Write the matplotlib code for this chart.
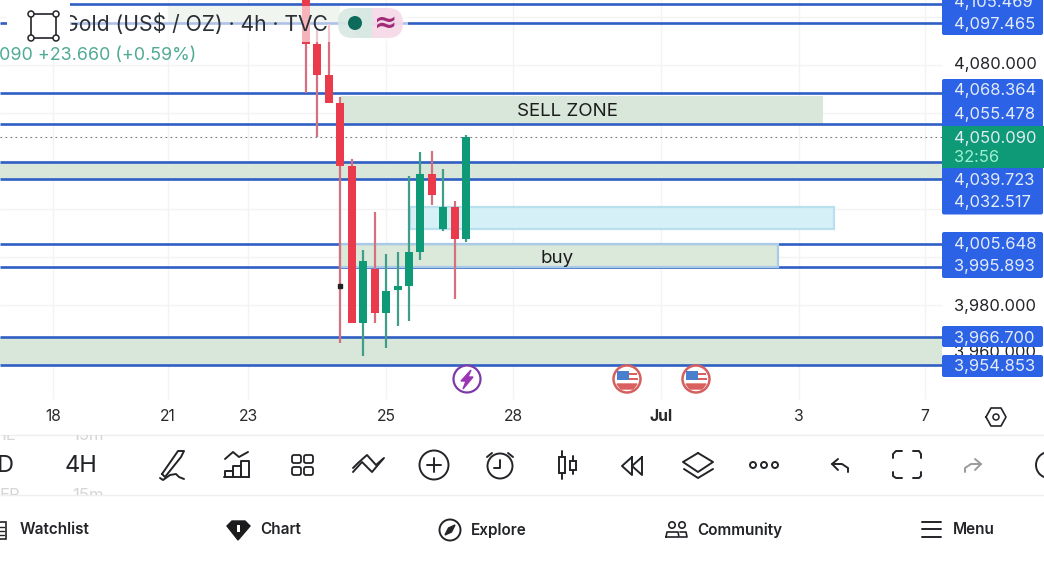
import matplotlib
matplotlib.use("Agg")
import matplotlib.pyplot as plt
import matplotlib.patches as mpatches

plt.rcParams["font.family"] = ["Inter", "DejaVu Sans"]

# Candles (4h bars, price in US$/oz)
opens  = [4110.0, 4088.6, 4075.9, 4064.3, 4038.1, 3972.4, 3995.2, 3976.6,
          3986.4, 3988.1, 4002.2, 4034.6, 4011.6, 4020.7, 4007.7]
highs  = [4112.0, 4094.6, 4097.1, 4066.8, 4040.9, 4002.9, 4018.6, 4001.3,
          4002.1, 4033.8, 4043.9, 4044.2, 4036.6, 4023.2, 4050.7]
lows   = [4068.4, 4050.1, 4064.2, 3964.3, 3972.7, 3958.9, 3972.4, 3962.2,
          3971.3, 3973.5, 3998.8, 4021.8, 4011.0, 3982.5, 4006.4]
closes = [4088.8, 4075.7, 4064.3, 4038.0, 3972.7, 3998.5, 3976.6, 3986.0,
          3987.8, 4002.2, 4034.6, 4025.9, 4020.7, 4007.7, 4050.09]

levels = [4105.469, 4097.465, 4068.364, 4055.478, 4039.723, 4032.517,
          4005.648, 3995.893, 3966.700, 3954.853]
last_price = 4050.09
grid_prices = [4100, 4080, 4060, 4040, 4020, 4000, 3980, 3960]

date_ticks  = [-22.1, -12.06, -5.07, 6.99, 18.09, 31.03, 43.1, 54.1]
date_labels = ["18", "21", "23", "25", "28", "Jul", "3", "7"]

price_labels = ["4,105.469", "4,097.465", "4,068.364", "4,055.478", "4,050.090",
                "32:56", "4,039.723", "4,032.517", "4,005.648", "3,995.893",
                "3,966.700", "3,954.853"]
price_label_y = [2, 24, 91, 114, 138, 157, 180, 203, 244, 267, 338, 366]

BLUE  = "#2c62e6"
LINE  = "#2f5fc4"
ZONE  = "#d8e7d9"
GREEN = "#0f9a77"
RED   = "#ea3b4c"
INK   = "#222428"
W, H = 1044, 588

fig = plt.figure(figsize=(W / 100, H / 100), dpi=100, facecolor="white")

# price axes: 2.4 px per dollar, 11.44 px per bar
ax = fig.add_axes([0, 0, 1, 1])
ax.set_xlim(-26.75, 64.51)
ax.set_ylim(3862.11, 4107.11)
ax.axis("off")
RIGHT = 55.6

# overlay in pixel coordinates for the app chrome
ui = fig.add_axes([0, 0, 1, 1], zorder=5)
ui.set_xlim(0, W)
ui.set_ylim(H, 0)
ui.axis("off")
ui.patch.set_alpha(0)

# grid
ax.hlines(grid_prices, -26.75, RIGHT, color="#f3f3f3", lw=1, zorder=1)
ax.vlines(date_ticks, 3941, 4107.11, color="#f3f3f3", lw=1, zorder=1)

# zones
def zone(x0, x1, lo, hi, face=ZONE, edge="none", z=2):
    ax.add_patch(mpatches.Rectangle((x0, lo), x1 - x0, hi - lo, facecolor=face,
                                    edgecolor=edge, lw=1.6, zorder=z))

zone(-12.06, 3.0, 4097.465, 4104.5)
zone(3.0, 45.2, 4055.478, 4067.0)
zone(-26.75, RIGHT, 4032.517, 4039.723)
zone(-26.75, RIGHT, 3954.853, 3966.7)
zone(9.1, 46.15, 4011.7, 4020.9, face="#d5f0f6", edge="#b8e0ee")

# levels
ax.hlines(levels, -26.75, RIGHT, color=LINE, lw=1.9, zorder=3)
ax.hlines(last_price, -26.75, RIGHT, color="#777777", lw=0.8,
          linestyles=(0, (1.5, 3)), zorder=3)
zone(3.0, 41.26, 3995.893, 4005.648, face=(0.85, 0.91, 0.85, 0.93), edge="#a9cbe8", z=4)

# candles
idx = list(range(len(opens)))
for i in idx:
    up = closes[i] >= opens[i]
    ax.vlines(i, lows[i], highs[i], color="#3f9d8a" if up else "#d4707f", lw=1.6, zorder=5)
    ax.bar(i, abs(closes[i] - opens[i]), bottom=min(opens[i], closes[i]), width=0.7,
           color=GREEN if up else RED, zorder=6)
ax.plot([3], [3988.0], "s", ms=2.2, color="#222222", zorder=7)

ax.text(22.85, 4060.8, "SELL ZONE", ha="center", va="center", fontsize=13.5, color="#1c1c1c", zorder=7)
ax.text(21.95, 3999.4, "buy", ha="center", va="center", fontsize=13.5, color="#1c1c1c", zorder=7)

# date axis
for t, s in zip(date_ticks, date_labels):
    ax.text(t, 3933.4, s, ha="center", va="center", fontsize=11.3,
            color="#2a2a2a", fontweight="bold" if s == "Jul" else "normal", zorder=7)

# price axis
def pbox(y0, y1, color=BLUE):
    ui.add_patch(mpatches.FancyBboxPatch((944, y0 + 2), 97, y1 - y0 - 4,
                 boxstyle="round,pad=2", facecolor=color, edgecolor="none", zorder=3))

for s, y in [("4,080.000", 65), ("3,980.000", 306), ("3,960.000", 352)]:
    ui.text(954, y, s, ha="left", va="center", fontsize=11.9, color=INK, zorder=2)
pbox(-8, 35)
pbox(79, 128)
pbox(166, 214.5)
ui.add_patch(mpatches.Rectangle((942, 126), 102, 42, facecolor=GREEN, edgecolor="none", zorder=4))
pbox(232, 278)
pbox(326, 347)
pbox(355, 377)
for s, y in zip(price_labels, price_label_y):
    ui.text(954, y, s, ha="left", va="center", fontsize=11.9,
            color="#9ff0d2" if s == "32:56" else "#e4ecf8", zorder=6)

# header veil, tool box, title
ui.add_patch(mpatches.Rectangle((70, 6), 338, 36, facecolor="white", alpha=0.62,
                                edgecolor="none", zorder=1))
ui.text(63, 24, "Gold (US$ / OZ) · 4h · TVC", ha="left", va="center", fontsize=15.2,
        color="#2b2f36", zorder=2)
ui.add_patch(mpatches.Rectangle((7, 0), 63, 50, facecolor="white", edgecolor="none", zorder=3))
ui.add_patch(mpatches.Rectangle((0, 0), 8, 15, facecolor="white", edgecolor="none", zorder=3))
ui.add_patch(mpatches.Rectangle((31, 14), 25, 24, fill=False, edgecolor=INK, lw=1.2, zorder=4))
for cx, cy in [(31, 14), (56, 14), (31, 38), (56, 38)]:
    ui.add_patch(mpatches.Circle((cx, cy), 3, facecolor="white", edgecolor=INK, lw=1.1, zorder=5))
ui.text(196, 55, "090 +23.660 (+0.59%)", ha="right", va="center", fontsize=12.9,
        color="#4fab94", zorder=4)

ui.add_patch(mpatches.FancyBboxPatch((352, 8), 51, 30, boxstyle="round,pad=0,rounding_size=15",
                                     facecolor="#f6d9e6", edgecolor="none", alpha=0.9, zorder=2))
ui.add_patch(mpatches.FancyBboxPatch((338, 8), 34, 30, boxstyle="round,pad=0,rounding_size=14",
                                     facecolor="#d8e8e3", edgecolor="none", alpha=0.9, zorder=2))
ui.add_patch(mpatches.Rectangle((360, 8), 12, 30, facecolor="#d8e8e3", edgecolor="none", zorder=2))
ui.add_patch(mpatches.Circle((355, 23), 7, facecolor="#0e6b5b", edgecolor="none", zorder=3))
ui.text(386, 23, "≈", ha="center", va="center", fontsize=20, fontweight="bold",
        color="#a32c78", family=["DejaVu Sans"], zorder=3)

# event badges
ui.add_patch(mpatches.Circle((467, 379), 13.5, facecolor="white", edgecolor="#7d3aa8", lw=1.6, zorder=3))
ui.fill([471, 461, 466, 463, 473, 468], [370, 381, 381, 389, 377, 377], color="#9b35b5", zorder=4)
for cx in [627, 696]:
    ui.add_patch(mpatches.Circle((cx, 379), 13.5, facecolor="white", edgecolor="#d4605f", lw=1.8, zorder=3))
    ui.add_patch(mpatches.Rectangle((cx - 10, 371), 12, 9, facecolor="#4a7fcf", edgecolor="none", zorder=4))
    ui.add_patch(mpatches.Rectangle((cx + 2, 373), 8, 2.4, facecolor="#d9605f", edgecolor="none", zorder=4))
    ui.add_patch(mpatches.Rectangle((cx + 2, 378), 9, 2.4, facecolor="#d9605f", edgecolor="none", zorder=4))
    ui.fill([cx - 10, cx + 10, cx + 6, cx - 6], [384, 384, 389, 389], color="#d9605f", zorder=4)

# settings hexagon
ui.plot([986, 991, 1001, 1006, 1001, 991, 986], [417, 408, 408, 417, 426, 426, 417], color=INK, lw=1.2)
ui.add_patch(mpatches.Circle((996, 417), 3, fill=False, edgecolor=INK, lw=1.1))

# lower panel
ui.add_patch(mpatches.Rectangle((0, 435), W, 153, facecolor="white", edgecolor="none", zorder=1))
ui.hlines([435, 495], 0, W, color="#efefef", lw=1, zorder=2)
clip = mpatches.Rectangle((0, 435), W, 60, transform=ui.transData)
for x, y, s in [(8, 436, "1E"), (88, 436, "15m"), (10, 496, "EP"), (88, 496, "15m")]:
    t = ui.text(x, y, s, ha="center", va="center", fontsize=12, color="#d6d6d6", zorder=2)
    t.set_clip_path(clip)
    t.set_clip_on(True)
ui.text(5, 466, "D", ha="center", va="center", fontsize=17, color=INK, zorder=3)
ui.text(81, 466, "4H", ha="center", va="center", fontsize=17, color=INK, zorder=3)

def stroke(xs, ys, color=INK, lw=1.4):
    ui.plot(xs, ys, color=color, lw=lw, solid_capstyle="round", solid_joinstyle="round", zorder=4)

# pen
stroke([162, 178, 184, 181, 165, 162], [474, 451, 451, 457, 477, 474])
stroke([160, 163, 170, 176, 179, 184], [478, 480, 475, 474, 477, 479])
# indicators
stroke([225, 233, 239, 248], [459, 452, 457, 452])
for x, y in [(225, 471), (233, 466), (241, 461)]:
    stroke([x, x, x + 8, x + 8], [477, y, y, 477])
stroke([224, 249], [477, 477])
# grid of four
for x in [291, 303]:
    for y in [454, 466]:
        ui.add_patch(mpatches.FancyBboxPatch((x + 1, y + 1), 9, 8, boxstyle="round,pad=0,rounding_size=2",
                     fill=False, edgecolor=INK, lw=1.3, zorder=4))
# zigzag ribbon
stroke([353, 362, 372, 383], [472, 462, 472, 459])
stroke([353, 358, 367, 376, 384], [468, 463, 455, 465, 458])
# plus
ui.add_patch(mpatches.Circle((434, 465), 14.5, fill=False, edgecolor=INK, lw=1.4, zorder=4))
stroke([434, 434], [458, 472])
stroke([427, 441], [465, 465])
# alarm
ui.add_patch(mpatches.Circle((500, 466), 12.5, fill=False, edgecolor=INK, lw=1.4, zorder=4))
stroke([500, 500, 494], [460, 468, 468])
stroke([487, 492], [457, 453])
stroke([508, 513], [453, 457])
# candle type
stroke([562, 562], [451, 479])
ui.add_patch(mpatches.Rectangle((559, 457), 6, 16, facecolor="white", edgecolor=INK, lw=1.4, zorder=5))
stroke([573, 573], [456, 474])
ui.add_patch(mpatches.Rectangle((570, 461), 5.5, 9, facecolor="white", edgecolor=INK, lw=1.4, zorder=5))
# replay
stroke([632, 622, 632, 632], [457, 466, 475, 457])
stroke([642, 632, 642, 642], [457, 466, 475, 457])
# layers
stroke([698, 683, 698, 713, 698], [453, 462, 472, 462, 453])
stroke([684, 698, 713], [469, 478, 469])
# dots
for x in [753, 764, 775]:
    ui.add_patch(mpatches.Circle((x, 465), 3, fill=False, edgecolor=INK, lw=1.4, zorder=4))
# undo
stroke([838, 832, 838], [459, 464, 470])
stroke([832, 842, 848, 848], [464, 464, 468, 472])
# fullscreen
stroke([893, 893, 896, 902], [458, 454, 451, 451])
stroke([913, 919, 921, 921], [451, 451, 454, 458])
stroke([893, 893, 896, 902], [472, 476, 478, 478])
stroke([913, 919, 921, 921], [478, 478, 476, 472])
# redo
stroke([975, 981, 975], [459, 464, 470], color="#9a9a9a")
stroke([981, 971, 965, 965], [464, 464, 468, 472], color="#9a9a9a")
# cropped bubble at the edge
ui.add_patch(mpatches.Circle((1049, 465), 13, fill=False, edgecolor=INK, lw=1.4, zorder=4))

# nav bar
for x, s in [(20, "Watchlist"), (260, "Chart"), (471, "Explore"), (697, "Community"), (953, "Menu")]:
    ui.text(x, 530, s, ha="left", va="center", fontsize=11, fontweight=600, color=INK, zorder=4)
ui.add_patch(mpatches.Rectangle((-4, 522), 10, 17, fill=False, edgecolor=INK, lw=1.2, zorder=4))
stroke([-1, 4], [527, 527], lw=1)
stroke([-1, 4], [531, 531], lw=1)
stroke([-1, 4], [535, 535], lw=1)
ui.fill([227, 232, 245, 250, 238], [526, 521, 521, 526, 540], color="#1b1b1d", zorder=4)
ui.add_patch(mpatches.Rectangle((236.5, 525), 3, 7, facecolor="white", edgecolor="none", zorder=5))
ui.add_patch(mpatches.Circle((450, 530), 10.5, fill=False, edgecolor=INK, lw=1.4, zorder=4))
ui.fill([455, 451.5, 445, 448.5], [525, 532, 535, 528], color=INK, zorder=4)
ui.add_patch(mpatches.Circle((672, 525), 3.2, fill=False, edgecolor=INK, lw=1.2, zorder=4))
ui.add_patch(mpatches.Circle((682, 525), 3.2, fill=False, edgecolor=INK, lw=1.2, zorder=4))
stroke([666, 667, 678, 679, 666], [537, 532, 532, 537, 537], lw=1.2)
stroke([680, 686, 687, 680], [532, 532, 537, 537], lw=1.2)
for y in [522, 529, 537]:
    stroke([922, 941], [y, y], lw=1.4)

fig.savefig("out.png", dpi=100, facecolor="white")
